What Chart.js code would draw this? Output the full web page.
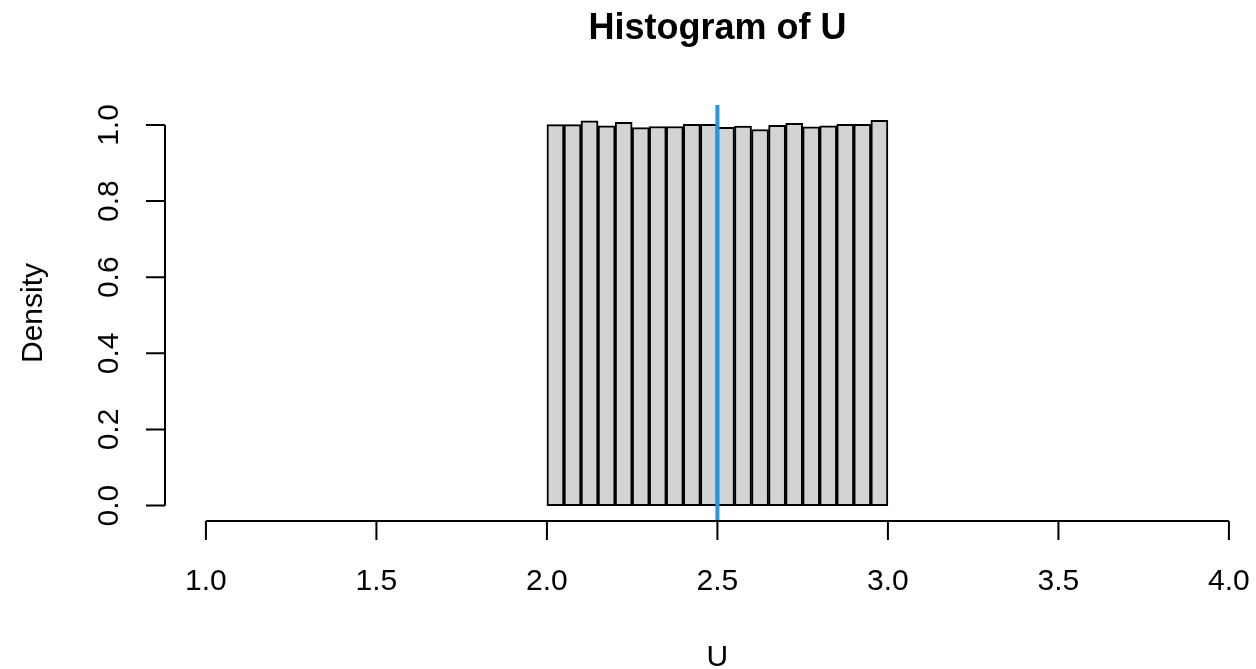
<!DOCTYPE html>
<html>
<head>
<meta charset="utf-8">
<title>Histogram of U</title>
<script src="https://cdn.jsdelivr.net/npm/chart.js@4.4.1/dist/chart.umd.min.js"></script>
<style>
  body { margin: 0; background: #fff; }
  canvas { display: block; }
</style>
</head>
<body>
<canvas id="hist_u" width="1256" height="669"></canvas>
<script>
// bin edges and densities
const breaks = [2.00, 2.05, 2.10, 2.15, 2.20, 2.25, 2.30, 2.35, 2.40, 2.45, 2.50,
                2.55, 2.60, 2.65, 2.70, 2.75, 2.80, 2.85, 2.90, 2.95, 3.00];
const densities = [1.001, 1.001, 1.011, 0.998, 1.007, 0.993, 0.996, 0.996, 1.002, 1.002,
                   0.994, 0.997, 0.988, 0.999, 1.004, 0.995, 0.998, 1.002, 1.002, 1.012];
const vLine = 2.5;
const xTicks = [1.0, 1.5, 2.0, 2.5, 3.0, 3.5, 4.0];
const yTicks = [0.0, 0.2, 0.4, 0.6, 0.8, 1.0];
const xLim = [1, 4];

const FONT = '"Liberation Sans", Arial, Helvetica, sans-serif';

// R style limits: extend range by 4% each side
const xPad = (xLim[1] - xLim[0]) * 0.04;
const yMax = Math.max(...densities);
const yPad = yMax * 0.04;

const rAxes = {
  id: 'rAxes',
  afterDraw(chart) {
    const ctx = chart.ctx;
    const xs = chart.scales.x, ys = chart.scales.y;
    const area = chart.chartArea;
    ctx.save();
    ctx.strokeStyle = '#000';
    ctx.fillStyle = '#000';
    ctx.lineWidth = 2;
    ctx.lineCap = 'butt';

    // x axis
    const yb = area.bottom;
    ctx.beginPath();
    ctx.moveTo(xs.getPixelForValue(xTicks[0]), yb);
    ctx.lineTo(xs.getPixelForValue(xTicks[xTicks.length - 1]), yb);
    xTicks.forEach(t => {
      const px = xs.getPixelForValue(t);
      ctx.moveTo(px, yb);
      ctx.lineTo(px, yb + 19);
    });
    ctx.stroke();
    ctx.font = '30px ' + FONT;
    ctx.textAlign = 'center';
    ctx.textBaseline = 'alphabetic';
    xTicks.forEach(t => {
      ctx.fillText(t.toFixed(1), xs.getPixelForValue(t), 590);
    });

    // y axis
    const xl = area.left;
    ctx.beginPath();
    ctx.moveTo(xl, ys.getPixelForValue(yTicks[0]));
    ctx.lineTo(xl, ys.getPixelForValue(yTicks[yTicks.length - 1]));
    yTicks.forEach(t => {
      const py = ys.getPixelForValue(t);
      ctx.moveTo(xl, py);
      ctx.lineTo(xl - 19, py);
    });
    ctx.stroke();
    yTicks.forEach(t => {
      ctx.save();
      ctx.translate(118, ys.getPixelForValue(t));
      ctx.rotate(-Math.PI / 2);
      ctx.fillText(t.toFixed(1), 0, 0);
      ctx.restore();
    });

    // titles
    const cx = xs.getPixelForValue((xLim[0] + xLim[1]) / 2);
    ctx.font = 'bold 36px ' + FONT;
    ctx.fillText('Histogram of U', cx, 39);
    ctx.font = '30px ' + FONT;
    ctx.fillText('U', cx, 666);
    ctx.save();
    ctx.translate(42, (area.top + area.bottom) / 2);
    ctx.rotate(-Math.PI / 2);
    ctx.fillText('Density', 0, 0);
    ctx.restore();

    ctx.restore();
  }
};

new Chart(document.getElementById('hist_u'), {
  type: 'bar',
  data: {
    datasets: [
      {
        type: 'line',
        label: 'v',
        data: [{ x: vLine, y: -yPad }, { x: vLine, y: yMax + yPad }],
        borderColor: '#2297E6',
        borderWidth: 4,
        pointRadius: 0,
        order: 0
      },
      {
        label: 'U',
        data: densities.map((d, i) => ({ x: (breaks[i] + breaks[i + 1]) / 2, y: d })),
        backgroundColor: '#D3D3D3',
        borderColor: '#000',
        borderWidth: 2,
        borderSkipped: false,
        barPercentage: 1,
        categoryPercentage: 1,
        order: 1
      }
    ]
  },
  options: {
    responsive: false,
    animation: false,
    layout: { padding: { left: 165, right: 0, top: 105, bottom: 148 } },
    plugins: {
      legend: { display: false },
      tooltip: { enabled: false },
      title: { display: false }
    },
    scales: {
      x: {
        type: 'linear',
        display: false,
        offset: false,
        min: xLim[0] - xPad,
        max: xLim[0] - xPad + (1256 - 165) / 341
      },
      y: {
        type: 'linear',
        display: false,
        min: -yPad,
        max: yMax + yPad
      }
    }
  },
  plugins: [rAxes]
});
</script>
</body>
</html>
